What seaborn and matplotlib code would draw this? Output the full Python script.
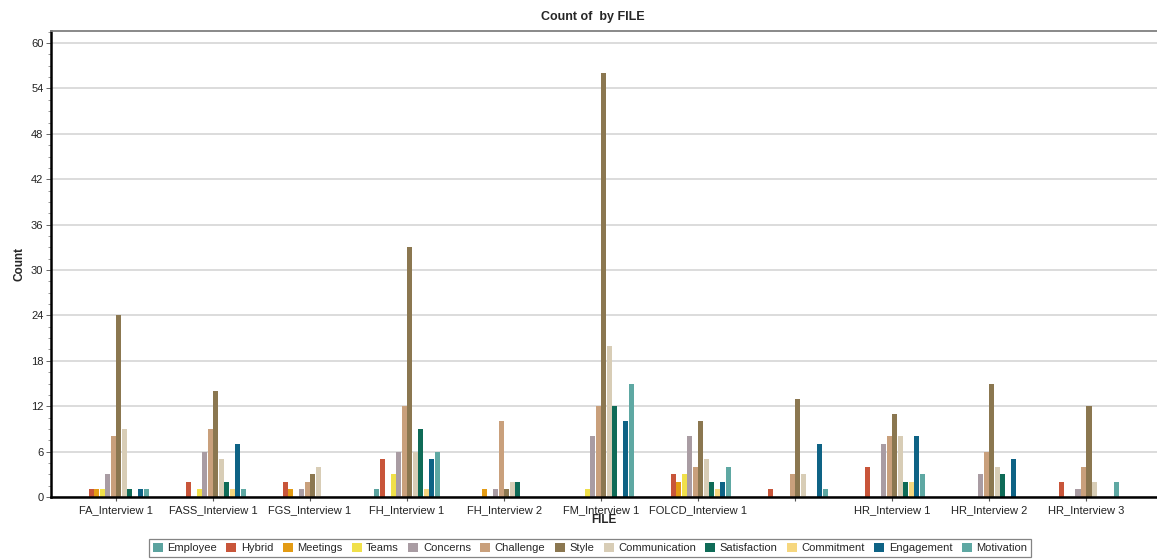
import matplotlib
matplotlib.use("Agg")
import matplotlib.pyplot as plt
from matplotlib.ticker import MultipleLocator
import seaborn as sns
import pandas as pd

files = ["FA_Interview 1", "FASS_Interview 1", "FGS_Interview 1", "FH_Interview 1",
         "FH_Interview 2", "FM_Interview 1", "FOLCD_Interview 1", "",
         "HR_Interview 1", "HR_Interview 2", "HR_Interview 3"]

codes = ["Employee", "Hybrid", "Meetings", "Teams", "Concerns", "Challenge", "Style",
         "Communication", "Satisfaction", "Commitment", "Engagement", "Motivation"]

employee      = [0, 0, 0, 1, 0, 0, 0, 0, 0, 0, 0]
hybrid        = [1, 2, 2, 5, 0, 0, 3, 1, 4, 0, 2]
meetings      = [1, 0, 1, 0, 1, 0, 2, 0, 0, 0, 0]
teams         = [1, 1, 0, 3, 0, 1, 3, 0, 0, 0, 0]
concerns      = [3, 6, 1, 6, 1, 8, 8, 0, 7, 3, 1]
challenge     = [8, 9, 2, 12, 10, 12, 4, 3, 8, 6, 4]
style         = [24, 14, 3, 33, 1, 56, 10, 13, 11, 15, 12]
communication = [9, 5, 4, 6, 2, 20, 5, 3, 8, 4, 2]
satisfaction  = [1, 2, 0, 9, 2, 12, 2, 0, 2, 3, 0]
commitment    = [0, 1, 0, 1, 0, 0, 1, 0, 2, 0, 0]
engagement    = [1, 7, 0, 5, 0, 10, 2, 7, 8, 5, 0]
motivation    = [1, 1, 0, 6, 0, 15, 4, 1, 3, 0, 2]

series = [employee, hybrid, meetings, teams, concerns, challenge, style,
          communication, satisfaction, commitment, engagement, motivation]

colors = ["#5BA39F", "#C8553A", "#E39B14", "#F0E04A", "#A99CA3", "#C9A07C",
          "#8B7750", "#D8CDB6", "#0F6B57", "#F6D77F", "#0E6385", "#5EA8A3"]

rows = []
for code, vals in zip(codes, series):
    for f, v in zip(files, vals):
        rows.append({"FILE": f, "Code": code, "Count": v})
df = pd.DataFrame(rows)

sns.set_theme(style="white")
plt.rcParams["font.family"] = ["Liberation Sans", "DejaVu Sans"]

fig = plt.figure(figsize=(11.57, 5.59), dpi=100)
ax = fig.add_axes([51 / 1157, 1 - 497 / 559, (1157 - 51) / 1157, (497 - 31) / 559])

sns.barplot(data=df, x="FILE", y="Count", hue="Code", order=files, hue_order=codes,
            palette=colors, saturation=1, width=0.68, gap=0.06, linewidth=0,
            ax=ax, legend=True)

ax.set_ylim(0, 61.6)
ax.set_xlim(-0.67, 10.73)
ax.yaxis.set_major_locator(MultipleLocator(6))
ax.yaxis.set_minor_locator(MultipleLocator(1.5))
ax.grid(axis="y", color="#DCDCDC", linewidth=1.4)
ax.set_axisbelow(True)

for s in ["left", "bottom"]:
    ax.spines[s].set_color("black")
    ax.spines[s].set_linewidth(1.8)
ax.spines["top"].set_color("#808080")
ax.spines["top"].set_linewidth(1.3)
ax.spines["right"].set_visible(False)

ax.tick_params(axis="y", which="major", left=True, length=3.5, width=0.7, color="#666666",
               labelsize=8, labelcolor="#222222", pad=2)
ax.tick_params(axis="y", which="minor", left=True, length=2, width=0.6, color="#888888")
ax.tick_params(axis="x", bottom=True, length=3, width=0.8, color="#555555",
               labelsize=8, labelcolor="#222222", pad=3)

ax.set_xlabel("FILE", fontsize=8.5, fontweight="bold", labelpad=-1)
ax.set_ylabel("Count", fontsize=8.5, fontweight="bold", labelpad=4)
fig.text(593 / 1157, 1 - 17 / 559, "Count of  by FILE",
         ha="center", va="center", fontsize=9, fontweight="bold")

handles, labels = ax.get_legend_handles_labels()
ax.legend_.remove()
leg = fig.legend(handles, labels, loc="center", bbox_to_anchor=(590 / 1157, 1 - 548 / 559),
                 ncol=12, fontsize=8, frameon=True, fancybox=False, handlelength=0.9,
                 handleheight=0.9, handletextpad=0.4, columnspacing=0.85,
                 borderpad=0.3, edgecolor="#666666")
leg.get_frame().set_linewidth(0.9)

fig.savefig("out.png", dpi=100)
